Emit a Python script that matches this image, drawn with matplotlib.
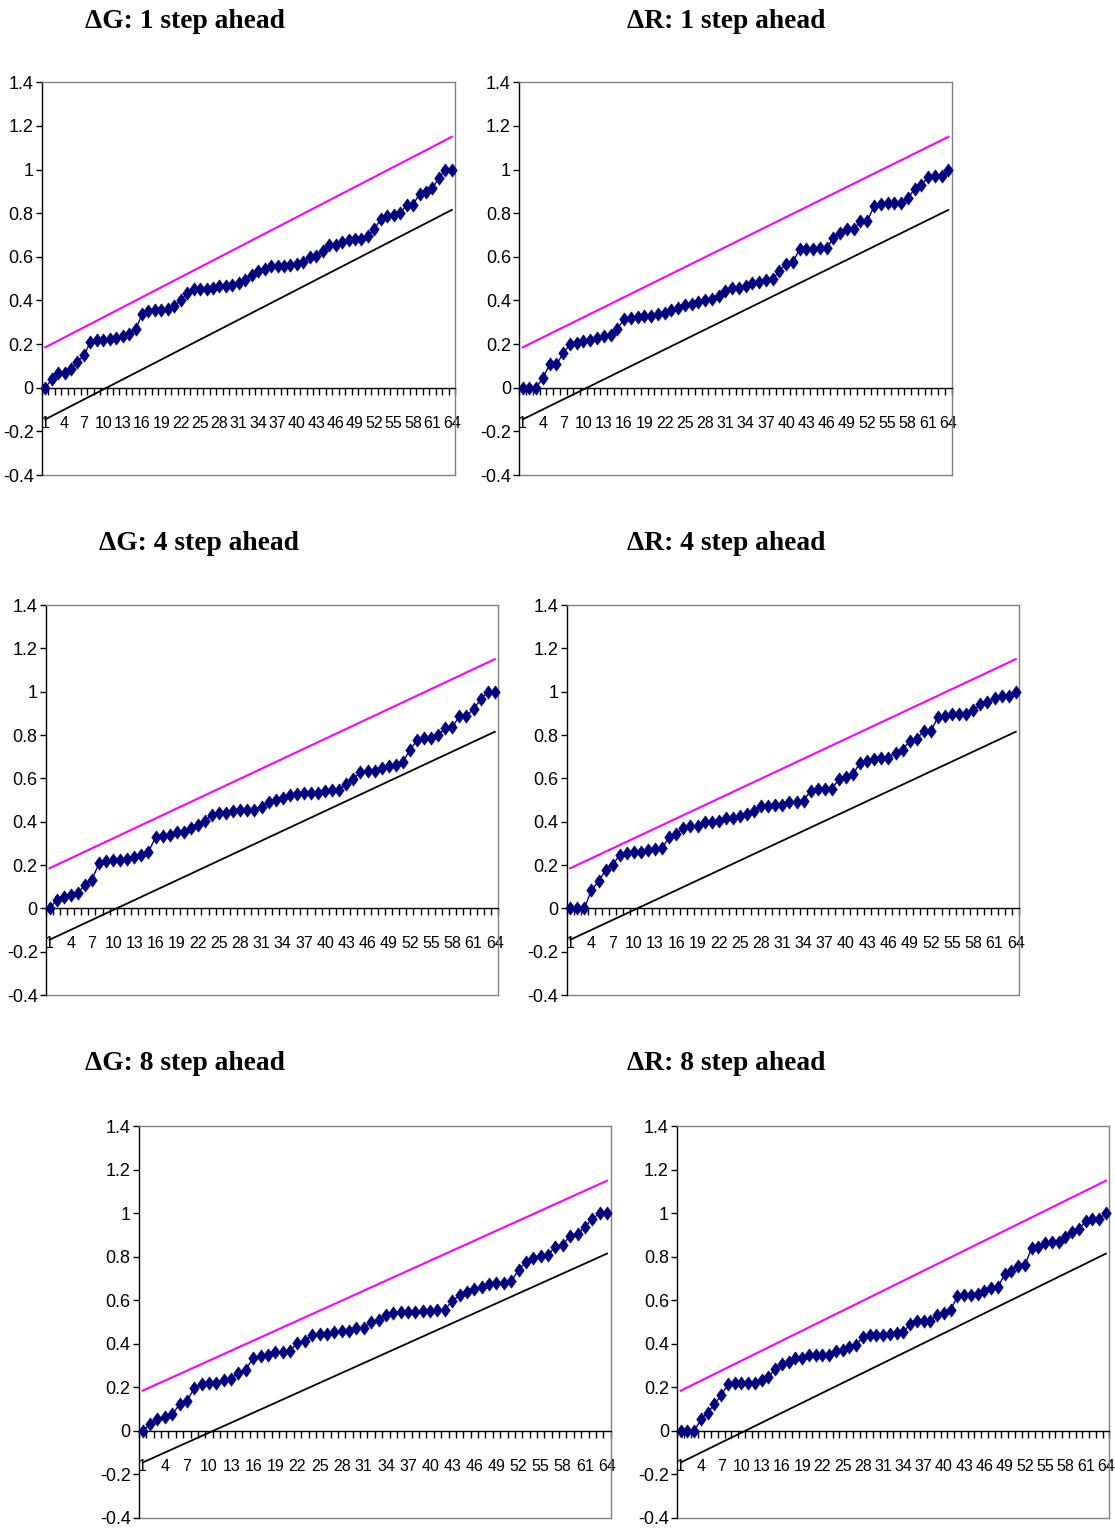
import numpy as np
import matplotlib
matplotlib.use("Agg")
import matplotlib.pyplot as plt
from matplotlib.ticker import FixedLocator

# ---------------- data ----------------
periods = list(range(1, 65))
x_label_positions = [1, 4, 7, 10, 13, 16, 19, 22, 25, 28, 31, 34, 37, 40, 43, 46,
                     49, 52, 55, 58, 61, 64]
x_tick_labels = ["1", "4", "7", "10", "13", "16", "19", "22", "25", "28", "31", "34",
                 "37", "40", "43", "46", "49", "52", "55", "58", "61", "64"]
y_ticks = [-0.4, -0.2, 0, 0.2, 0.4, 0.6, 0.8, 1.0, 1.2, 1.4]
y_tick_labels = ["-0.4", "-0.2", "0", "0.2", "0.4", "0.6", "0.8", "1", "1.2", "1.4"]

bound_x = [1, 64]
upper_bound = [0.185, 1.15]
lower_bound = [-0.145, 0.815]

titles = ["\u0394G: 1 step ahead", "\u0394R: 1 step ahead",
          "\u0394G: 4 step ahead", "\u0394R: 4 step ahead",
          "\u0394G: 8 step ahead", "\u0394R: 8 step ahead"]

dG_1step = [0, 0.038, 0.069, 0.069, 0.087, 0.12, 0.148, 0.21, 0.22, 0.22, 0.225, 0.23,
            0.236, 0.247, 0.267, 0.336, 0.354, 0.358, 0.358, 0.363, 0.374, 0.40, 0.435,
            0.453, 0.453, 0.453, 0.458, 0.468, 0.468, 0.473, 0.48, 0.495,
            0.519, 0.534, 0.544, 0.557, 0.56, 0.56, 0.564, 0.569, 0.575, 0.60,
            0.602, 0.625, 0.656, 0.656, 0.666, 0.679, 0.682, 0.682, 0.697, 0.727,
            0.773, 0.785, 0.79, 0.80, 0.839, 0.839, 0.889, 0.895, 0.915, 0.961, 1.0, 1.0]
dR_1step = [0, 0, 0, 0.046, 0.107, 0.107, 0.157, 0.20, 0.206, 0.213, 0.221, 0.229, 0.236,
            0.244, 0.267, 0.316, 0.32, 0.325, 0.328, 0.328, 0.339, 0.343, 0.358, 0.366,
            0.378, 0.384, 0.392, 0.40, 0.407, 0.422,
            0.442, 0.458, 0.458, 0.465, 0.48, 0.483, 0.493, 0.499, 0.534, 0.569, 0.575,
            0.636, 0.636, 0.636, 0.641, 0.641, 0.686, 0.709, 0.728, 0.728, 0.763, 0.763,
            0.831, 0.842, 0.846, 0.849, 0.849, 0.869, 0.91, 0.93, 0.965, 0.97, 0.97, 1.0]
dG_4step = [0, 0.038, 0.054, 0.061, 0.069, 0.11, 0.133, 0.207, 0.217, 0.222, 0.222, 0.23,
            0.237, 0.248, 0.26, 0.329, 0.334, 0.34, 0.352, 0.352, 0.37, 0.386, 0.405,
            0.431, 0.441, 0.441, 0.447, 0.454, 0.454, 0.456, 0.467,
            0.49, 0.502, 0.508, 0.523, 0.528, 0.532, 0.532, 0.532, 0.543, 0.548, 0.548,
            0.574, 0.597, 0.63, 0.635, 0.635, 0.65, 0.658, 0.661, 0.676, 0.731, 0.777,
            0.785, 0.788, 0.799, 0.834, 0.837, 0.887, 0.887, 0.921, 0.964, 1.0, 1.0]
dR_4step = [0, 0, 0, 0.084, 0.125, 0.176, 0.199, 0.248, 0.256, 0.26, 0.26, 0.268, 0.275,
            0.278, 0.329, 0.344, 0.37, 0.379, 0.379, 0.398, 0.398, 0.405, 0.416, 0.416,
            0.428, 0.436, 0.447, 0.474, 0.474,
            0.476, 0.477, 0.49, 0.493, 0.497, 0.543, 0.551, 0.551, 0.551, 0.597, 0.604,
            0.62, 0.673, 0.681, 0.688, 0.696, 0.696, 0.719, 0.731, 0.773, 0.783, 0.819,
            0.819, 0.883, 0.89, 0.895, 0.895, 0.895, 0.915, 0.941, 0.952, 0.972, 0.979,
            0.982, 1.0]
dG_8step = [0, 0.031, 0.053, 0.064, 0.076, 0.122, 0.137, 0.198, 0.214, 0.221, 0.221, 0.232,
            0.241, 0.267, 0.282, 0.336, 0.344, 0.351, 0.363, 0.363, 0.369, 0.405, 0.412,
            0.44, 0.446, 0.446, 0.455, 0.461, 0.461,
            0.473, 0.473, 0.501, 0.511, 0.531, 0.542, 0.547, 0.547, 0.547, 0.553, 0.553,
            0.557, 0.557, 0.598, 0.623, 0.638, 0.653, 0.66, 0.675, 0.679, 0.679, 0.687,
            0.74, 0.776, 0.794, 0.802, 0.809, 0.847, 0.855, 0.898, 0.904, 0.939, 0.974,
            1.0, 1.0]
dR_8step = [0, 0, 0, 0.053, 0.084, 0.122, 0.165, 0.214, 0.221, 0.221, 0.221, 0.221, 0.232,
            0.247, 0.287, 0.308, 0.318, 0.333, 0.336, 0.348, 0.348, 0.348, 0.351, 0.366,
            0.374, 0.385, 0.397, 0.431, 0.44,
            0.442, 0.443, 0.446, 0.45, 0.455, 0.492, 0.507, 0.507, 0.507, 0.534, 0.542,
            0.557, 0.618, 0.626, 0.626, 0.629, 0.641, 0.656, 0.66, 0.721, 0.736, 0.76,
            0.763, 0.84, 0.847, 0.863, 0.867, 0.867, 0.889, 0.916, 0.928, 0.965, 0.974,
            0.974, 1.0]

series_list = [dG_1step, dR_1step, dG_4step, dR_4step, dG_8step, dR_8step]

# ---------------- layout (pixels) ----------------
W, H = 1115, 1528
# (left, right, top, bottom) of plot areas
boxes = [(42, 455, 82.3, 475), (519.3, 951.7, 82.3, 475),
         (46, 498.3, 605, 995), (566.7, 1019.3, 605, 995),
         (139, 610.7, 1126.3, 1518), (677.3, 1109.3, 1126.3, 1518)]
title_xy = [(85, 22), (627, 22), (99, 543), (627, 543), (85, 1064), (627, 1064)]

plt.rcParams['font.family'] = ['Liberation Sans Narrow', 'Liberation Sans', 'DejaVu Sans']

fig = plt.figure(figsize=(W / 100, H / 100), dpi=100)
fig.patch.set_facecolor('white')

diamond = [(0, 1), (0.72, 0), (0, -1), (-0.72, 0), (0, 1)]
gray = '#808080'

for title, series, box, txy in zip(titles, series_list, boxes, title_xy):
    l, r, t, b = box
    ax = fig.add_axes([l / W, 1 - b / H, (r - l) / W, (b - t) / H])
    ax.set_xlim(0.5, 64.5)
    ax.set_ylim(-0.4, 1.4)

    ax.plot(bound_x, upper_bound, color='#FF00FF', lw=1.5, zorder=2)
    ax.plot(bound_x, lower_bound, color='black', lw=1.3, zorder=2)
    ax.plot(periods, series, color='#000080', lw=1.0, marker=diamond, ms=9.5,
            mfc='#000080', mec='#000080', mew=0.5, zorder=3, clip_on=False)

    for s in ('top', 'right'):
        ax.spines[s].set_color(gray)
        ax.spines[s].set_linewidth(1.0)
    ax.spines['left'].set_color('black')
    ax.spines['left'].set_linewidth(1.0)
    ax.spines['bottom'].set_position(('data', 0))
    ax.spines['bottom'].set_color('black')
    ax.spines['bottom'].set_linewidth(1.0)
    ax.plot([0, 1], [0, 0], transform=ax.transAxes, color=gray, lw=1.0, clip_on=False)

    ax.set_yticks(y_ticks)
    ax.set_yticklabels(y_tick_labels)
    ax.tick_params(axis='y', direction='out', length=4, width=1, pad=2, labelsize=13,
                   colors='black')

    ax.set_xticks(x_label_positions)
    ax.set_xticklabels(x_tick_labels)
    ax.xaxis.set_minor_locator(FixedLocator(np.arange(0.5, 65, 1.0)))
    ax.tick_params(axis='x', which='major', length=0, pad=20, labelsize=11.5)
    ax.tick_params(axis='x', which='minor', direction='out', length=5, width=1,
                   color='black')

    fig.text(txy[0] / W, 1 - txy[1] / H, title, fontfamily='Liberation Serif',
             fontweight='bold', fontsize=19.8, va='center', ha='left')

fig.savefig('out.png', dpi=100, facecolor='white')
